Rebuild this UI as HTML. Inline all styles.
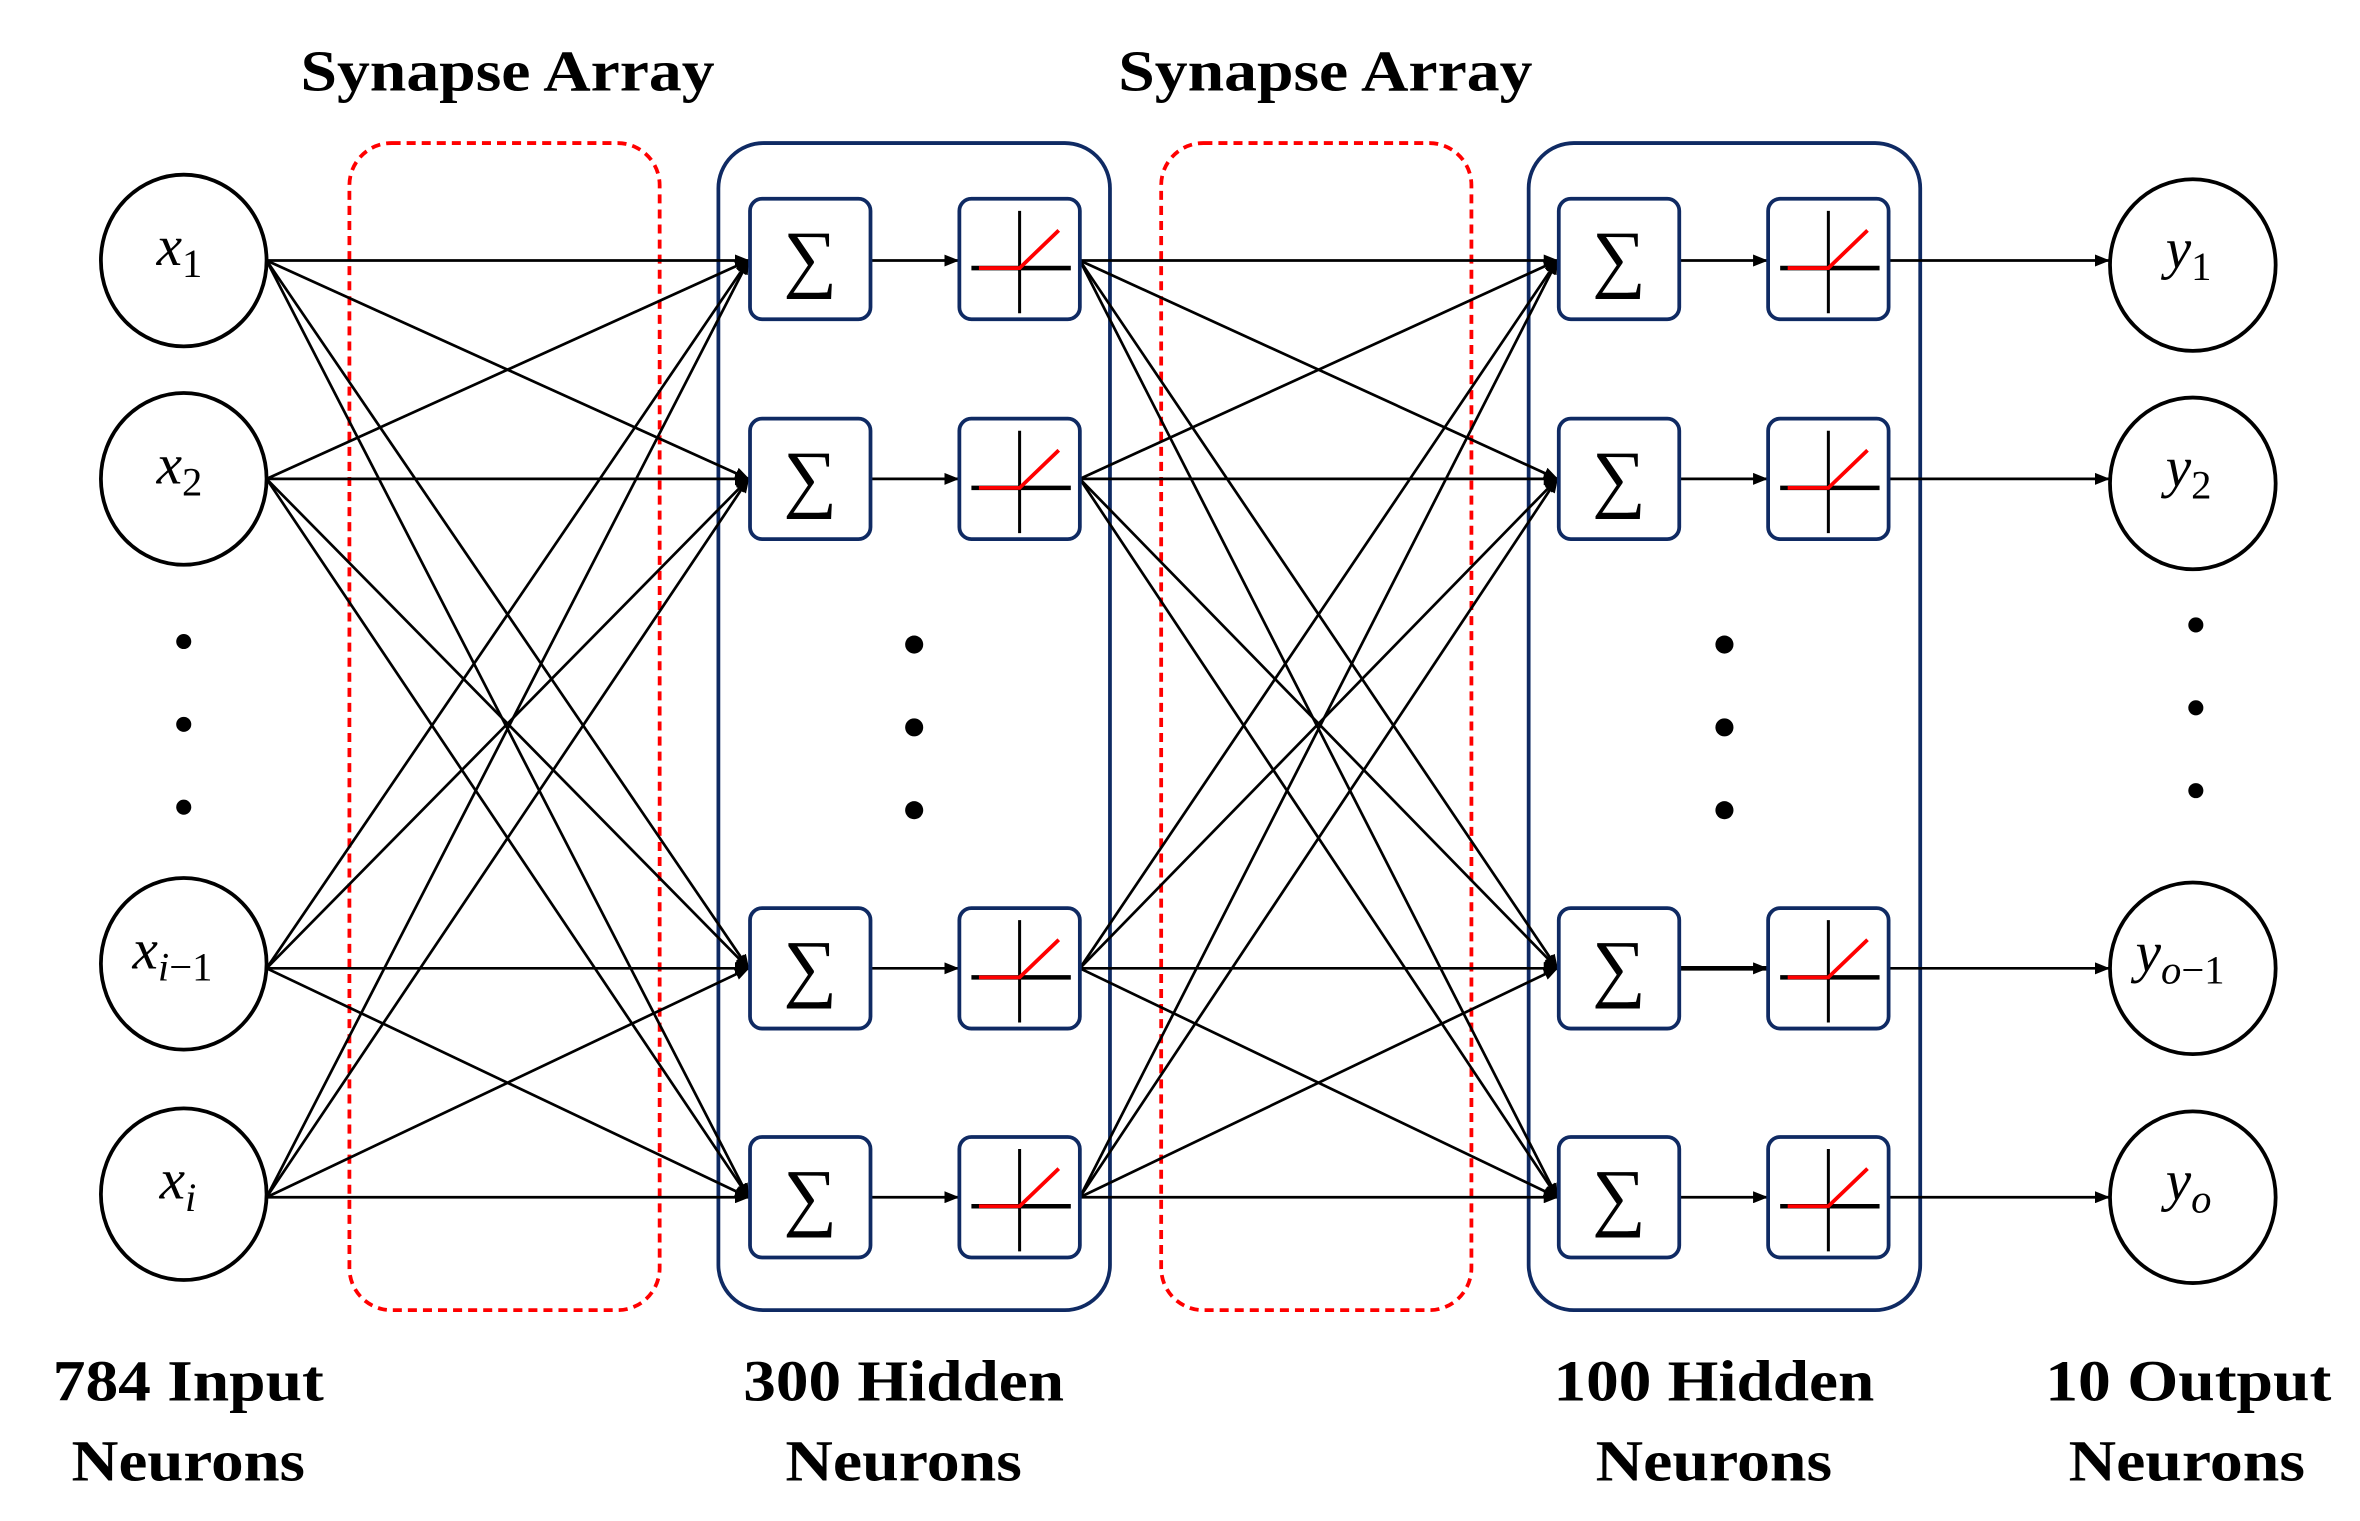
<!DOCTYPE html>
<html><head><meta charset="utf-8"><style>
html,body{margin:0;padding:0;background:#fff;}
svg{display:block;}
text{font-family:"Liberation Serif",serif;}
.t{font-weight:bold;font-size:39px;text-anchor:middle;}
.m{font-style:italic;font-size:38px;}
.s{font-size:27px;}
</style></head><body>
<svg width="2360" height="1521" viewBox="0 0 1567 1010" preserveAspectRatio="none" xmlns="http://www.w3.org/2000/svg">
<defs>
<marker id="a" markerWidth="10" markerHeight="8" refX="9" refY="4" orient="auto" markerUnits="userSpaceOnUse"><path d="M0,0L10,4L0,8z" fill="#000"/></marker>
<g id="sig"><rect x="0" y="0" width="80" height="80" rx="8" fill="#fff" stroke="#0f2a63" stroke-width="2.5"/><text x="40" y="56" font-size="50" text-anchor="middle" font-family="DejaVu Serif,serif" font-weight="normal">∑</text></g>
<g id="relu"><rect x="0" y="0" width="80" height="80" rx="8" fill="#fff" stroke="#0f2a63" stroke-width="2.5"/>
<line x1="40" y1="8" x2="40" y2="76" stroke="#000" stroke-width="2"/>
<line x1="8" y1="46" x2="74" y2="46" stroke="#000" stroke-width="3"/>
<polyline points="13,46 40,46 66,21" fill="none" stroke="#f00" stroke-width="2.5"/></g>
</defs>
<text class="t" x="337" y="60" textLength="275" lengthAdjust="spacingAndGlyphs">Synapse Array</text>
<text class="t" x="880" y="60" textLength="275" lengthAdjust="spacingAndGlyphs">Synapse Array</text>
<rect x="232" y="95" width="206" height="775" rx="28" fill="none" stroke="#f00" stroke-width="2.5" stroke-dasharray="6,4"/>
<rect x="771" y="95" width="206" height="775" rx="28" fill="none" stroke="#f00" stroke-width="2.5" stroke-dasharray="6,4"/>
<rect x="477" y="95" width="260" height="775" rx="30" fill="none" stroke="#0f2a63" stroke-width="2.5"/>
<rect x="1015" y="95" width="260" height="775" rx="30" fill="none" stroke="#0f2a63" stroke-width="2.5"/>
<g stroke="#000" stroke-width="1.8" fill="none" marker-end="url(#a)">
<path d="M177 173L497 173"/><path d="M177 173L497 318"/><path d="M177 173L497 643"/><path d="M177 173L497 795"/>
<path d="M177 318L497 173"/><path d="M177 318L497 318"/><path d="M177 318L497 643"/><path d="M177 318L497 795"/>
<path d="M177 643L497 173"/><path d="M177 643L497 318"/><path d="M177 643L497 643"/><path d="M177 643L497 795"/>
<path d="M177 795L497 173"/><path d="M177 795L497 318"/><path d="M177 795L497 643"/><path d="M177 795L497 795"/>
<path d="M717 173L1034 173"/><path d="M717 173L1034 318"/><path d="M717 173L1034 643"/><path d="M717 173L1034 795"/>
<path d="M717 318L1034 173"/><path d="M717 318L1034 318"/><path d="M717 318L1034 643"/><path d="M717 318L1034 795"/>
<path d="M717 643L1034 173"/><path d="M717 643L1034 318"/><path d="M717 643L1034 643"/><path d="M717 643L1034 795"/>
<path d="M717 795L1034 173"/><path d="M717 795L1034 318"/><path d="M717 795L1034 643"/><path d="M717 795L1034 795"/>
<path d="M578 173L636 173"/><path d="M578 318L636 318"/><path d="M578 643L636 643"/><path d="M578 795L636 795"/>
<path d="M1115 173L1173 173"/><path d="M1115 318L1173 318"/><path d="M1115 643L1173 643" stroke-width="3"/><path d="M1115 795L1173 795"/>
<path d="M1254 173L1400 173"/><path d="M1254 318L1400 318"/><path d="M1254 643L1400 643"/><path d="M1254 795L1400 795"/>
</g>
<use href="#sig" x="498" y="132"/><use href="#sig" x="498" y="278"/><use href="#sig" x="498" y="603"/><use href="#sig" x="498" y="755"/>
<use href="#relu" x="637" y="132"/><use href="#relu" x="637" y="278"/><use href="#relu" x="637" y="603"/><use href="#relu" x="637" y="755"/>
<use href="#sig" x="1035" y="132"/><use href="#sig" x="1035" y="278"/><use href="#sig" x="1035" y="603"/><use href="#sig" x="1035" y="755"/>
<use href="#relu" x="1174" y="132"/><use href="#relu" x="1174" y="278"/><use href="#relu" x="1174" y="603"/><use href="#relu" x="1174" y="755"/>
<g fill="#fff" stroke="#000" stroke-width="2.5">
<ellipse cx="122" cy="173" rx="55" ry="57"/><ellipse cx="122" cy="318" rx="55" ry="57"/><ellipse cx="122" cy="640" rx="55" ry="57"/><ellipse cx="122" cy="793" rx="55" ry="57"/>
<ellipse cx="1456" cy="176" rx="55" ry="57"/><ellipse cx="1456" cy="321" rx="55" ry="57"/><ellipse cx="1456" cy="643" rx="55" ry="57"/><ellipse cx="1456" cy="795" rx="55" ry="57"/>
</g>
<g fill="#000">
<circle cx="122" cy="426" r="5"/><circle cx="122" cy="481" r="5"/><circle cx="122" cy="536" r="5"/>
<circle cx="607" cy="428" r="6"/><circle cx="607" cy="483" r="6"/><circle cx="607" cy="538" r="6"/>
<circle cx="1145" cy="428" r="6"/><circle cx="1145" cy="483" r="6"/><circle cx="1145" cy="538" r="6"/>
<circle cx="1458" cy="415" r="5"/><circle cx="1458" cy="470" r="5"/><circle cx="1458" cy="525" r="5"/>
</g>
<g>
<text class="m" x="104" y="176">x<tspan class="s" dy="8" font-style="normal">1</tspan></text>
<text class="m" x="104" y="321">x<tspan class="s" dy="8" font-style="normal">2</tspan></text>
<text class="m" x="88" y="643">x<tspan class="s" dy="8">i</tspan><tspan class="s" font-style="normal">−1</tspan></text>
<text class="m" x="106" y="796">x<tspan class="s" dy="8">i</tspan></text>
<text class="m" x="1438" y="178">y<tspan class="s" dy="8" font-style="normal">1</tspan></text>
<text class="m" x="1438" y="323">y<tspan class="s" dy="8" font-style="normal">2</tspan></text>
<text class="m" x="1418" y="645">y<tspan class="s" dy="8">o</tspan><tspan class="s" font-style="normal">−1</tspan></text>
<text class="m" x="1438" y="797">y<tspan class="s" dy="8">o</tspan></text>
</g>
<text class="t" x="125" y="930" textLength="180" lengthAdjust="spacingAndGlyphs">784 Input</text>
<text class="t" x="125" y="983" textLength="155" lengthAdjust="spacingAndGlyphs">Neurons</text>
<text class="t" x="600" y="930" textLength="213" lengthAdjust="spacingAndGlyphs">300 Hidden</text>
<text class="t" x="600" y="983" textLength="157" lengthAdjust="spacingAndGlyphs">Neurons</text>
<text class="t" x="1138" y="930" textLength="213" lengthAdjust="spacingAndGlyphs">100 Hidden</text>
<text class="t" x="1138" y="983" textLength="157" lengthAdjust="spacingAndGlyphs">Neurons</text>
<text class="t" x="1453" y="930" textLength="190" lengthAdjust="spacingAndGlyphs">10 Output</text>
<text class="t" x="1452" y="983" textLength="157" lengthAdjust="spacingAndGlyphs">Neurons</text>
</svg>
</body></html>
